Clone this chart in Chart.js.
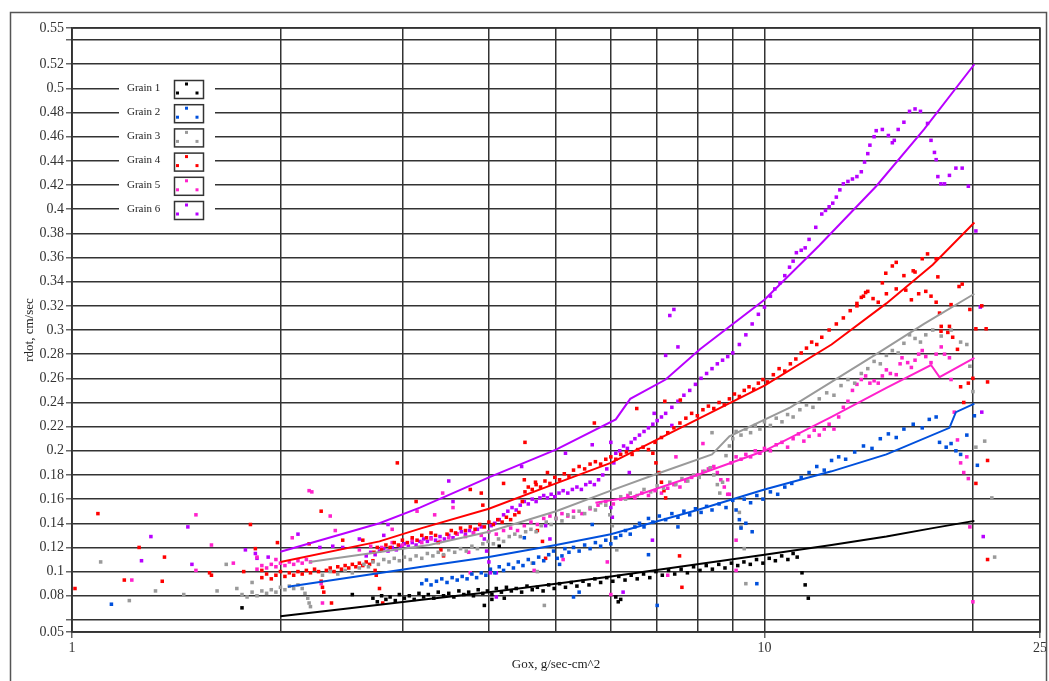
<!DOCTYPE html>
<html>
<head>
<meta charset="utf-8">
<script src="https://cdn.jsdelivr.net/npm/chart.js@4.4.1/dist/chart.umd.min.js"></script>
<style>
  body { margin: 0; background: #fff; }
  canvas { display: block; }
</style>
</head>
<body>
<canvas id="myChart" width="1049" height="681"></canvas>
<script>
// axis ticks
var xTicks = [1, 2, 3, 4, 5, 6, 7, 8, 9, 10, 20, 25];
var xTickLabels = [1, 10, 25];
var yTicks = [0.05, 0.06, 0.08, 0.1, 0.12, 0.14, 0.16, 0.18, 0.2, 0.22, 0.24, 0.26, 0.28, 0.3, 0.32, 0.34, 0.36, 0.38, 0.4, 0.42, 0.44, 0.46, 0.48, 0.5, 0.52, 0.54, 0.55];
var yUnlabeled = [0.06, 0.54];

var grainNames = ['Grain 1', 'Grain 2', 'Grain 3', 'Grain 4', 'Grain 5', 'Grain 6'];

// measured points [Gox, rdot]
var grain1Points = [[1.76,0.07],[2.54,0.081],[3.94,0.072],[4.04,0.077],[4.14,0.121],[4.21,0.078],[6.1,0.079],[6.15,0.075],[6.2,0.077],
  [2.72,0.078],[2.76,0.075],[2.8,0.08],[2.84,0.077],[2.88,0.079],[2.93,0.076],[2.97,0.081],[3.02,0.078],[3.07,0.08],[3.12,0.077],[3.17,0.082],[3.22,0.079],[3.27,0.081],[3.33,0.078],[3.38,0.083],[3.44,0.08],[3.5,0.082],[3.56,0.079],[3.62,0.084],[3.68,0.081],[3.74,0.083],[3.8,0.08],[3.86,0.085],[3.92,0.082],[3.98,0.084],[4.04,0.081],[4.1,0.086],[4.17,0.083],[4.24,0.087],[4.31,0.084],[4.38,0.086],[4.46,0.083],[4.54,0.088],[4.62,0.085],[4.7,0.087],[4.79,0.084],[4.88,0.089],[4.97,0.086],[5.06,0.09],[5.16,0.087],[5.26,0.091],[5.36,0.088],[5.47,0.092],[5.58,0.089],[5.69,0.094],[5.8,0.091],[5.92,0.095],[6.04,0.092],[6.16,0.096],[6.29,0.093],[6.42,0.097],[6.55,0.094],[6.69,0.098],[6.83,0.095],[6.97,0.1],[7.12,0.097],[7.27,0.101],[7.42,0.098],[7.58,0.102],[7.74,0.099],[7.9,0.104],[8.07,0.101],[8.24,0.105],[8.41,0.102],[8.59,0.106],[8.77,0.103],[8.96,0.107],[9.15,0.105],[9.34,0.108],[9.54,0.106],[9.74,0.11],[9.95,0.107],[10.16,0.111],[10.37,0.109],[10.59,0.113],[10.81,0.11],[11.0,0.115],[11.15,0.112],[11.33,0.099],[11.45,0.089],[11.57,0.078]];

var grain2Points = [[1.14,0.073],[4.5,0.128],[5.3,0.079],[5.4,0.083],[5.64,0.139],[6.8,0.114],[7.0,0.072],[7.5,0.137],[9.4,0.14],[9.6,0.133],[9.75,0.09],
  [3.2,0.09],[3.25,0.093],[3.3,0.089],[3.36,0.092],[3.42,0.094],[3.48,0.091],[3.54,0.095],[3.6,0.093],[3.66,0.096],[3.72,0.094],[3.78,0.098],[3.84,0.095],[3.9,0.099],[3.96,0.097],[4.02,0.102],[4.08,0.099],[4.14,0.104],[4.2,0.101],[4.27,0.106],[4.34,0.103],[4.41,0.108],[4.48,0.105],[4.56,0.11],[4.64,0.107],[4.72,0.112],[4.8,0.109],[4.88,0.114],[4.96,0.117],[5.02,0.111],[5.06,0.106],[5.1,0.113],[5.15,0.119],[5.22,0.116],[5.3,0.12],[5.4,0.117],[5.5,0.122],[5.6,0.119],[5.7,0.124],[5.8,0.121],[5.9,0.126],[6.0,0.123],[6.1,0.128],[6.2,0.13],[6.3,0.134],[6.4,0.131],[6.5,0.137],[6.6,0.14],[6.7,0.137],[6.8,0.144],[6.9,0.141],[7.05,0.146],[7.2,0.143],[7.35,0.148],[7.5,0.145],[7.65,0.15],[7.8,0.147],[7.95,0.152],[8.1,0.149],[8.25,0.154],[8.4,0.151],[8.6,0.156],[8.8,0.153],[9.0,0.159],[9.1,0.151],[9.2,0.143],[9.25,0.136],[9.35,0.16],[9.55,0.157],[9.75,0.163],[9.95,0.16],[10.2,0.166],[10.45,0.164],[10.7,0.17],[10.95,0.173],[11.3,0.178],[11.6,0.182],[11.9,0.187],[12.2,0.184],[12.5,0.192],[12.8,0.195],[13.1,0.193],[13.5,0.199],[13.9,0.204],[14.3,0.202],[14.7,0.21],[15.1,0.214],[15.5,0.211],[15.9,0.218],[16.4,0.222],[16.9,0.219],[17.3,0.226],[17.7,0.228],
  [17.9,0.207],[18.3,0.203],[18.6,0.206],[18.9,0.2],[19.2,0.197],[19.6,0.213],[20.1,0.229],[20.3,0.188]];

var grain3Points = [[1.1,0.108],[1.21,0.076],[1.32,0.084],[1.45,0.081],[1.62,0.084],[1.67,0.106],[1.73,0.086],[1.82,0.091],[4.62,0.107],[4.7,0.1],[4.81,0.072],[8.4,0.215],[9.2,0.149],[9.25,0.137],[9.35,0.119],[9.4,0.09],
  [1.76,0.081],[1.79,0.079],[1.82,0.083],[1.85,0.08],[1.88,0.084],[1.91,0.082],[1.94,0.085],[1.97,0.083],[2.0,0.087],[2.03,0.085],[2.06,0.088],[2.09,0.086],[2.12,0.089],[2.15,0.086],[2.17,0.082],[2.19,0.078],[2.2,0.074],[2.21,0.071],
  [2.3,0.097],[2.36,0.1],[2.42,0.098],[2.48,0.101],[2.54,0.099],[2.6,0.103],[2.64,0.106],[2.68,0.104],[2.72,0.108],[2.77,0.106],[2.82,0.11],[2.87,0.108],[2.92,0.111],[2.97,0.109],[3.02,0.112],[3.08,0.11],[3.14,0.113],[3.2,0.111],[3.26,0.115],[3.32,0.113],[3.38,0.116],[3.44,0.114],[3.5,0.118],[3.57,0.116],[3.64,0.119],[3.71,0.117],[3.78,0.121],[3.85,0.119],[3.92,0.123],[3.99,0.125],[4.06,0.123],[4.13,0.127],[4.2,0.125],[4.28,0.129],[4.36,0.131],[4.44,0.129],[4.52,0.133],[4.6,0.135],[4.68,0.133],[4.76,0.138],[4.84,0.141],[4.92,0.139],[5.0,0.144],[5.1,0.142],[5.2,0.147],[5.3,0.145],[5.4,0.15],[5.5,0.148],[5.6,0.153],[5.7,0.151],[5.8,0.157],[5.9,0.155],[5.98,0.147],[6.03,0.138],[6.08,0.128],[6.12,0.118],[6.2,0.162],[6.3,0.16],[6.4,0.165],[6.55,0.163],[6.7,0.168],[6.85,0.166],[7.0,0.171],[7.15,0.169],[7.3,0.174],[7.45,0.172],[7.6,0.177],[7.75,0.175],[7.9,0.18],[8.05,0.178],[8.2,0.183],[8.35,0.186],[8.45,0.18],[8.55,0.172],[8.62,0.165],[8.7,0.174],[8.8,0.196],[8.9,0.204],[9.0,0.21],[9.1,0.216],[9.25,0.213],[9.4,0.218],[9.55,0.215],[9.7,0.221],[9.85,0.218],[10.0,0.224],[10.2,0.221],[10.4,0.227],[10.6,0.224],[10.8,0.23],[11.0,0.228],[11.25,0.234],[11.5,0.238],[11.75,0.236],[12.0,0.243],[12.3,0.248],[12.6,0.246],[12.9,0.254],[13.2,0.259],[13.5,0.256],[13.8,0.264],[14.1,0.268],[14.4,0.274],[14.7,0.272],[15.0,0.279],[15.3,0.283],[15.6,0.281],[15.9,0.289],[16.2,0.296],[16.5,0.293],[16.8,0.29],[17.1,0.296],
  [17.5,0.3],[18.0,0.295],[18.6,0.3],[19.2,0.29],[19.6,0.288],[19.8,0.27],[20.0,0.249],[20.2,0.203],[20.8,0.208],[21.3,0.161],[21.5,0.112]];

var grain4Points = [[1.01,0.086],[1.09,0.148],[1.19,0.093],[1.25,0.12],[1.35,0.092],[1.36,0.112],[1.58,0.099],[1.59,0.097],[1.77,0.1],[1.81,0.139],[1.84,0.119],[1.88,0.101],[1.98,0.124],[2.2,0.123],[2.29,0.15],[2.37,0.074],[2.46,0.126],[2.63,0.126],[2.78,0.086],[2.81,0.074],[2.95,0.19],[3.14,0.158],[3.76,0.168],[3.9,0.165],[3.92,0.155],[4.2,0.173],[4.5,0.176],[4.51,0.207],[4.67,0.174],[4.7,0.134],[4.78,0.125],[4.83,0.111],[4.86,0.182],[5.68,0.223],[6.54,0.235],[7.18,0.241],[7.56,0.242],[7.54,0.113],[7.6,0.087],
  [1.88,0.095],[1.91,0.098],[1.94,0.094],[1.97,0.097],[2.0,0.1],[2.03,0.096],[2.06,0.099],[2.09,0.097],[2.12,0.1],[2.15,0.098],[2.18,0.101],[2.21,0.099],[2.24,0.102],[2.27,0.1],[2.29,0.092],[2.3,0.087],[2.31,0.083],[2.33,0.101],[2.36,0.103],[2.39,0.1],[2.42,0.104],[2.45,0.102],[2.48,0.105],[2.51,0.103],[2.54,0.106],[2.57,0.104],[2.6,0.107],[2.63,0.105],[2.66,0.108],[2.69,0.106],[2.72,0.109],[2.74,0.101],[2.75,0.097],[2.73,0.116],[2.76,0.12],[2.8,0.118],[2.84,0.122],[2.88,0.12],[2.92,0.124],[2.96,0.122],[3.0,0.126],[3.05,0.124],[3.1,0.128],[3.15,0.126],[3.2,0.13],[3.25,0.128],[3.3,0.132],[3.35,0.13],[3.38,0.124],[3.41,0.118],[3.44,0.113],[3.48,0.131],[3.53,0.134],[3.58,0.132],[3.64,0.136],[3.7,0.134],[3.76,0.137],[3.82,0.135],[3.88,0.139],[3.94,0.137],[4.0,0.141],[4.06,0.139],[4.12,0.143],[4.18,0.141],[4.24,0.145],[4.3,0.143],[4.36,0.147],[4.42,0.149],[4.47,0.158],[4.51,0.166],[4.56,0.17],[4.62,0.168],[4.68,0.172],[4.75,0.17],[4.82,0.175],[4.9,0.173],[4.98,0.178],[5.06,0.176],[5.14,0.181],[5.22,0.179],[5.3,0.184],[5.4,0.187],[5.5,0.185],[5.6,0.189],[5.7,0.191],[5.8,0.189],[5.9,0.193],[6.0,0.195],[6.1,0.193],[6.2,0.197],[6.32,0.199],[6.44,0.197],[6.56,0.201],[6.68,0.203],[6.8,0.201],[6.9,0.198],[6.97,0.19],[7.04,0.182],[7.1,0.174],[7.16,0.167],[7.2,0.161],
  [6.95,0.207],[7.1,0.211],[7.25,0.215],[7.4,0.219],[7.55,0.223],[7.7,0.227],[7.85,0.231],[8.0,0.229],[8.15,0.234],[8.3,0.237],[8.45,0.235],[8.6,0.24],[8.75,0.238],[8.9,0.243],[9.05,0.247],[9.2,0.245],[9.35,0.25],[9.5,0.253],[9.65,0.251],[9.8,0.256],[9.95,0.259],[10.1,0.257],[10.3,0.263],[10.5,0.268],[10.7,0.266],[10.9,0.272],[11.1,0.276],[11.3,0.281],[11.5,0.285],[11.7,0.29],[11.9,0.288],[12.1,0.294],[12.4,0.3],[12.7,0.305],[13.0,0.31],[13.3,0.316],[13.6,0.322],[13.9,0.328],[14.1,0.332],[14.35,0.326],[14.6,0.323],[15.0,0.33],[15.5,0.334],[16.0,0.333],[16.3,0.325],[16.7,0.33],[17.1,0.332],[17.4,0.328],[17.7,0.323],[17.9,0.314],[18.0,0.303],[18.4,0.298],[18.7,0.294],[19.0,0.284],[19.2,0.253],[19.4,0.24],
  [13.6,0.32],[13.8,0.327],[14.0,0.331],[14.8,0.339],[14.97,0.347],[15.3,0.353],[15.5,0.356],[15.9,0.345],[16.4,0.349],[16.5,0.348],[16.9,0.359],[17.2,0.363],[17.7,0.359],[17.8,0.344],[19.1,0.336],[19.3,0.338],
  [19.8,0.317],[20.2,0.301],[20.0,0.26],[19.7,0.256],[20.6,0.32],[20.9,0.301],[21.0,0.257],[21.0,0.192],[20.2,0.173],[21.0,0.11],[18.6,0.321],[17.99,0.299],[18.5,0.303]];

var grain5Points = [[1.22,0.093],[1.51,0.147],[1.51,0.101],[1.59,0.122],[1.71,0.107],[1.85,0.112],[1.97,0.11],[2.08,0.128],[2.2,0.167],[2.22,0.166],[2.36,0.146],[2.4,0.134],[2.29,0.09],[2.3,0.074],[2.9,0.135],[3.15,0.15],[3.34,0.147],[3.43,0.165],[3.55,0.153],[3.74,0.116],[3.76,0.099],[4.65,0.101],[5.12,0.11],[5.93,0.108],[6.0,0.081],[7.25,0.097],[7.45,0.195],[8.15,0.206],[8.85,0.176],[8.9,0.164],[9.1,0.126],[9.1,0.101],
  [1.85,0.102],[1.88,0.105],[1.91,0.103],[1.94,0.106],[1.97,0.104],[2.0,0.107],[2.03,0.105],[2.06,0.108],[2.09,0.106],[2.12,0.109],[2.15,0.107],[2.18,0.11],[2.21,0.108],
  [2.6,0.118],[2.7,0.121],[2.8,0.12],[2.9,0.124],[3.0,0.122],[3.1,0.126],[3.2,0.124],[3.3,0.127],[3.4,0.125],[3.5,0.128],[3.6,0.131],[3.7,0.129],[3.8,0.132],[3.9,0.13],[4.0,0.133],[4.1,0.131],[4.2,0.134],[4.3,0.136],[4.4,0.134],[4.5,0.138],[4.6,0.141],[4.7,0.139],[4.8,0.144],[4.9,0.146],[5.0,0.144],[5.1,0.148],[5.2,0.146],[5.3,0.15],[5.45,0.148],[5.6,0.152],[5.75,0.155],[5.9,0.158],[6.05,0.156],[6.2,0.16],[6.35,0.163],[6.5,0.161],[6.65,0.165],[6.8,0.163],[6.95,0.167],[7.1,0.165],[7.25,0.169],[7.4,0.172],[7.55,0.17],[7.7,0.175],[7.85,0.178],[8.0,0.18],[8.15,0.183],[8.3,0.185],[8.45,0.187],[8.55,0.182],[8.65,0.176],[8.75,0.17],[8.85,0.164],[8.95,0.19],[9.1,0.195],[9.25,0.193],[9.4,0.197],[9.55,0.195],[9.7,0.2],[9.85,0.198],[10.0,0.202],[10.2,0.2],[10.4,0.205],[10.6,0.207],[10.8,0.203],[11.0,0.21],[11.2,0.214],[11.4,0.208],[11.6,0.212],[11.8,0.217],[12.0,0.213],[12.2,0.218],[12.4,0.222],[12.6,0.218],[12.8,0.228],[13.0,0.236],[13.2,0.241],[13.4,0.25],[13.6,0.255],[13.8,0.259],[14.0,0.262],[14.2,0.256],[14.4,0.258],[14.6,0.256],[14.8,0.262],[15.0,0.267],[15.2,0.264],[15.5,0.263],[15.7,0.272],[15.8,0.277],[16.1,0.273],[16.3,0.269],[16.5,0.275],[16.7,0.28],[16.9,0.283],[17.1,0.278],[17.4,0.273],[17.7,0.28],[18.0,0.286],[18.2,0.28],[18.5,0.277],[18.6,0.259],[18.8,0.232],[19.0,0.209],[19.2,0.19],[19.4,0.182],[19.7,0.177],[19.6,0.195],[19.8,0.137],[20.0,0.075]];

var grain6Points = [[1.26,0.109],[1.3,0.129],[1.47,0.137],[1.49,0.106],[1.78,0.118],[1.84,0.115],[1.85,0.111],[1.92,0.112],[2.12,0.131],[2.28,0.12],[2.38,0.121],[2.46,0.12],[2.6,0.127],[2.82,0.13],[2.86,0.139],[3.5,0.175],[3.55,0.158],[4.1,0.099],[4.1,0.079],[4.46,0.187],[4.9,0.127],[4.83,0.138],[5.16,0.198],[5.64,0.205],[6.0,0.207],[6.38,0.182],[6.89,0.126],[6.93,0.231],[7.35,0.221],[6.25,0.083],[7.2,0.279],[7.3,0.312],[7.4,0.317],[7.5,0.286],
  [2.66,0.113],[2.7,0.116],[2.74,0.114],[2.78,0.117],[2.82,0.119],[2.86,0.117],[2.9,0.12],[2.94,0.118],[2.98,0.121],[3.02,0.123],[3.06,0.121],[3.1,0.124],[3.14,0.122],[3.18,0.125],[3.22,0.127],[3.26,0.125],[3.3,0.128],[3.35,0.126],[3.4,0.129],[3.45,0.127],[3.5,0.13],[3.55,0.128],[3.6,0.131],[3.65,0.133],[3.7,0.131],[3.75,0.134],[3.8,0.132],[3.85,0.135],[3.9,0.137],[3.94,0.127],[3.97,0.117],[4.0,0.108],[4.02,0.099],[4.03,0.138],[4.08,0.14],[4.14,0.143],[4.2,0.147],[4.26,0.15],[4.32,0.153],[4.38,0.151],[4.44,0.155],[4.5,0.158],[4.56,0.156],[4.62,0.16],[4.68,0.158],[4.74,0.161],[4.8,0.163],[4.86,0.161],[4.92,0.164],[4.98,0.162],[5.05,0.165],[5.12,0.167],[5.2,0.165],[5.28,0.168],[5.36,0.17],[5.44,0.168],[5.52,0.172],[5.6,0.174],[5.68,0.172],[5.76,0.176],[5.84,0.18],[5.92,0.185],[6.0,0.153],[6.03,0.145],[6.06,0.19],[6.1,0.198],[6.18,0.2],[6.26,0.204],[6.34,0.202],[6.42,0.207],[6.5,0.21],[6.6,0.213],[6.7,0.216],[6.8,0.219],[6.9,0.222],[7.0,0.225],[7.1,0.228],[7.2,0.231],[7.35,0.236],[7.5,0.241],[7.65,0.246],[7.8,0.25],[7.95,0.255],[8.1,0.26],[8.25,0.264],[8.4,0.268],[8.55,0.272],[8.7,0.275],[8.85,0.278],[9.0,0.281],[9.2,0.288],[9.4,0.296],[9.6,0.305],[9.8,0.313],[10.0,0.319],[10.2,0.328],[10.35,0.334],
  [10.53,0.339],[10.7,0.345],[10.87,0.352],[11.0,0.357],[11.12,0.364],[11.3,0.366],[11.45,0.368],[11.6,0.375],[11.86,0.385],[12.1,0.396],[12.25,0.399],[12.4,0.402],[12.55,0.405],[12.7,0.41],[12.85,0.416],[13.0,0.421],[13.2,0.423],[13.4,0.425],[13.6,0.427],[13.8,0.431],[13.95,0.439],[14.1,0.446],[14.2,0.453],[14.4,0.46],[14.5,0.465],[14.8,0.466],[15.1,0.461],[15.3,0.455],[15.4,0.457],[15.6,0.466],[15.9,0.472],[16.2,0.481],[16.5,0.483],[16.8,0.481],[17.2,0.471],[17.4,0.457],[17.6,0.447],[17.7,0.441],[17.8,0.427],[17.98,0.421],[18.2,0.421],[18.5,0.428],[18.9,0.434],[19.3,0.434],[19.7,0.419],[20.2,0.382],[20.5,0.319],[20.6,0.232],[20.7,0.129]];

// fitted curves [Gox, rdot]
var grain1Fit = [[2,0.063],[2.5,0.0695],[3.2,0.0766],[4,0.083],[5,0.09],[6,0.096],[8,0.106],[10,0.114],[12.5,0.122],[15,0.129],[17.5,0.136],[20.1,0.142]];
var grain2Fit = [[2.05,0.0875],[3.2,0.104],[4,0.112],[5,0.122],[6,0.131],[8,0.151],[10,0.168],[12.5,0.183],[15,0.197],[18.5,0.219],[18.9,0.232],[20.1,0.239]];
var grain3Fit = [[2.2,0.108],[3.28,0.122],[4,0.133],[5,0.15],[6,0.167],[7,0.181],[8.4,0.197],[8.9,0.212],[10.9,0.236],[12.5,0.257],[14.6,0.281],[17,0.305],[20.1,0.33]];
var grain4Fit = [[2,0.108],[2.78,0.125],[3.2,0.136],[4,0.152],[5,0.173],[6,0.19],[8,0.226],[10,0.254],[12.5,0.288],[15,0.322],[17.5,0.354],[20.1,0.389]];
var grain5Fit = [[5.7,0.157],[6.45,0.162],[8,0.18],[10,0.2],[12.5,0.228],[15,0.252],[17.4,0.271],[17.9,0.261],[20.1,0.277]];
var grain6Fit = [[2,0.1165],[2.78,0.14],[3.18,0.153],[4,0.178],[5,0.201],[6.1,0.226],[6.4,0.243],[7.2,0.259],[8.07,0.284],[10,0.325],[12,0.37],[14.5,0.419],[17,0.466],[20.1,0.52]];

var grainColors = ['#000000', '#0050dc', '#9a9a9a', '#ff0000', '#ff22cc', '#b800ff'];
var allPoints = [grain1Points, grain2Points, grain3Points, grain4Points, grain5Points, grain6Points];
var allFits = [grain1Fit, grain2Fit, grain3Fit, grain4Fit, grain5Fit, grain6Fit];

var serif = "'Liberation Serif', 'DejaVu Serif', serif";
var gridColor = '#333333';

var datasets = [];
allFits.forEach(function (fit, i) {
    datasets.push({
        label: grainNames[i] + ' fit',
        data: fit,
        showLine: true,
        borderColor: grainColors[i],
        borderWidth: 2,
        pointRadius: 0,
        fill: false
    });
});
allPoints.forEach(function (pts, i) {
    datasets.push({
        label: grainNames[i],
        data: pts,
        showLine: false,
        pointStyle: 'rect',
        pointRadius: 2.5,
        pointBorderWidth: 0,
        backgroundColor: grainColors[i],
        borderColor: grainColors[i]
    });
});

// frame, axis titles and the boxed legend
var decorations = {
    id: 'decorations',
    beforeDatasetsDraw: function (chart) {
        var ctx = chart.ctx;
        ctx.save();
        // legend sits on a white patch over the grid
        ctx.fillStyle = '#fff';
        ctx.fillRect(119, 74, 96, 148);
        ctx.font = '11px ' + serif;
        ctx.textBaseline = 'middle';
        ctx.textAlign = 'left';
        grainNames.forEach(function (name, i) {
            var cy = 89 + i * 24.2;
            ctx.fillStyle = '#222';
            ctx.fillText(name, 127, cy - 1);
            ctx.strokeStyle = '#333';
            ctx.lineWidth = 1.5;
            ctx.strokeRect(174.5, cy - 8.5, 29, 18);
            ctx.fillStyle = grainColors[i];
            ctx.fillRect(185, cy - 6.5, 3, 3);
            ctx.fillRect(176, cy + 2.5, 3, 3);
            ctx.fillRect(195.5, cy + 2.5, 3, 3);
        });
        ctx.restore();
    },
    afterDraw: function (chart) {
        var ctx = chart.ctx;
        var a = chart.chartArea;
        ctx.save();
        ctx.strokeStyle = gridColor;
        ctx.lineWidth = 1.5;
        ctx.strokeRect(a.left, a.top, a.right - a.left, a.bottom - a.top);
        ctx.strokeStyle = '#555';
        ctx.lineWidth = 1.5;
        ctx.strokeRect(10.5, 12.5, 1036, 700);
        ctx.fillStyle = '#222';
        ctx.font = '13px ' + serif;
        ctx.textAlign = 'center';
        ctx.textBaseline = 'middle';
        ctx.fillText('Gox, g/sec-cm^2', (a.left + a.right) / 2, 665);
        ctx.translate(30, (a.top + a.bottom) / 2);
        ctx.rotate(-Math.PI / 2);
        ctx.fillText('rdot, cm/sec', 0, 0);
        ctx.restore();
    }
};

document.addEventListener('DOMContentLoaded', function () {
    var ctx = document.getElementById('myChart').getContext('2d');
    new Chart(ctx, {
        type: 'scatter',
        data: { datasets: datasets },
        plugins: [decorations],
        options: {
            responsive: false,
            animation: false,
            events: [],
            layout: { padding: { left: 0, top: 28, right: 7, bottom: 0 } },
            plugins: {
                legend: { display: false },
                tooltip: { enabled: false }
            },
            scales: {
                x: {
                    type: 'logarithmic',
                    min: 1,
                    max: 25,
                    afterBuildTicks: function (scale) {
                        scale.ticks = xTicks.map(function (v) { return { value: v }; });
                    },
                    afterFit: function (scale) { scale.height = 49; },
                    ticks: {
                        autoSkip: false,
                        maxRotation: 0,
                        padding: 2,
                        color: '#333',
                        font: { family: serif, size: 14 },
                        callback: function (v) {
                            return xTickLabels.indexOf(v) >= 0 ? String(v) : '';
                        }
                    },
                    grid: {
                        color: gridColor,
                        lineWidth: 1.5,
                        tickLength: 6,
                        tickColor: function (c) {
                            return c.tick && xTickLabels.indexOf(c.tick.value) >= 0 ? '#666' : 'rgba(0,0,0,0)';
                        }
                    },
                    border: { color: gridColor, width: 1.5 }
                },
                y: {
                    type: 'linear',
                    min: 0.05,
                    max: 0.55,
                    afterBuildTicks: function (scale) {
                        scale.ticks = yTicks.map(function (v) { return { value: v }; });
                    },
                    afterFit: function (scale) { scale.width = 72; },
                    ticks: {
                        autoSkip: false,
                        padding: 2,
                        color: '#333',
                        font: { family: serif, size: 14 },
                        callback: function (v) {
                            return yUnlabeled.indexOf(v) >= 0 ? '' : String(+v.toFixed(2));
                        }
                    },
                    grid: {
                        color: gridColor,
                        lineWidth: 1.5,
                        tickLength: 6,
                        tickColor: '#666'
                    },
                    border: { color: gridColor, width: 1.5 }
                }
            }
        }
    });
});
</script>
</body>
</html>
